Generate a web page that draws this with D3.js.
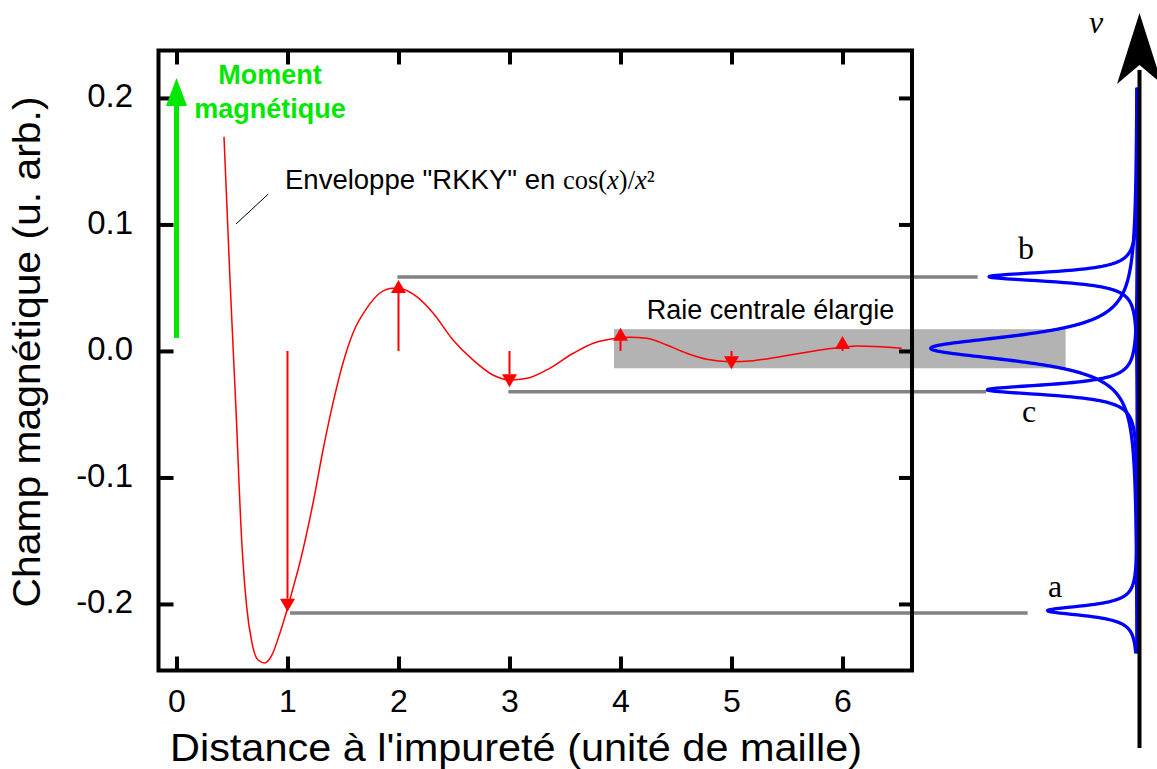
<!DOCTYPE html>
<html>
<head>
<meta charset="utf-8">
<script src="https://cdn.jsdelivr.net/npm/d3@7"></script>
<style>
  html, body { margin: 0; padding: 0; background: #fff; }
  svg { display: block; }
</style>
</head>
<body>
<svg id="chart" width="1157" height="769"></svg>
<script>
// ---------- data ----------
const xTicks = [0, 1, 2, 3, 4, 5, 6];
const xTickLabels = ["0", "1", "2", "3", "4", "5", "6"];
const yTicks = [-0.2, -0.1, 0, 0.1, 0.2];
const yTickLabels = ["-0.2", "-0.1", "0.0", "0.1", "0.2"];

// RKKY-like field curve
const redX = [0.428, 0.482, 0.536, 0.587, 0.632, 0.680, 0.734, 0.797, 0.860, 0.932, 0.993, 1.050, 1.113,
  1.230, 1.320, 1.410, 1.500, 1.590, 1.716, 1.833, 1.950, 2.041, 2.167, 2.311, 2.491, 2.671, 2.851,
  3.005, 3.158, 3.335, 3.575, 3.755, 3.966, 4.086, 4.236, 4.416, 4.596, 4.777, 4.986, 5.196, 5.437,
  5.677, 5.917, 6.128, 6.338, 6.533];
const redY = [0.1692, 0.0561, -0.0466, -0.1494, -0.2021, -0.2308, -0.2443, -0.2466, -0.2403, -0.2229,
  -0.2055, -0.1874, -0.1668, -0.1202, -0.0783, -0.0411, -0.0095, 0.0142, 0.0340, 0.0458, 0.0496, 0.0488,
  0.0427, 0.0300, 0.0087, -0.0071, -0.0190, -0.0229, -0.0216, -0.0150, -0.0018, 0.0061, 0.0100, 0.0108,
  0.0100, 0.0047, -0.0018, -0.0066, -0.0085, -0.0077, -0.0045, -0.0010, 0.0021, 0.0040, 0.0034, 0.0021];

// Field arrows at each lattice site
const arrowX = [1, 2, 3, 4, 5, 6];
const arrowTip = [-0.2061, 0.0561, -0.0287, 0.0184, -0.0145, 0.0119];

// Magnetic moment arrow at the impurity
const momentX = 0;
const momentFrom = 0.0103;
const momentTo = 0.2158;

// Grey guide lines (b, c, a)
const guideNames = ["b", "c", "a"];
const guideStartX = [1.99, 2.99, 1.023];
const guideEndX = [7.218, 7.293, 7.668];
const guideY = [0.0584, -0.0322, -0.2071];

// Broadened central line box
const boxX = [3.941, 8.01];
const boxY = [-0.0137, 0.0172];

// Spectrum peaks (Lorentzian lines): frequency position in field units, relative height, half width
const peakNames = ["b", "central", "c", "a"];
const peakCenter = [0.0587, 0.0021, -0.0307, -0.2053];
const peakAmp = [0.719, 1.0, 0.727, 0.435];
const peakHWHM = [0.0046, 0.012, 0.005, 0.0048];
const specRange = [-0.239, 0.208];

// ---------- layout ----------
const svg = d3.select("#chart");
const L = 158.5, R = 912, T = 50.5, B = 670.5;

const x = d3.scaleLinear().domain([-0.1622, 6.6261]).range([L, R]);
const y = d3.scaleLinear().domain([-0.2526, 0.2375]).range([B, T]);
const inten = d3.scaleLinear().domain([0, 1]).range([1137.5, 930.7]);

const SANS = "'Liberation Sans', Arial, Helvetica, sans-serif";
const SERIF = "'Liberation Serif', 'Times New Roman', serif";
const RED = "#ff0000", GREEN = "#00e800", BLUE = "#0000ff", GREY = "#828282";

// broadened line box
svg.append("rect")
  .attr("x", x(boxX[0])).attr("y", y(boxY[1]))
  .attr("width", x(boxX[1]) - x(boxX[0]))
  .attr("height", y(boxY[0]) - y(boxY[1]))
  .attr("fill", "#b3b3b3");

// guide lines
svg.append("g").selectAll("line").data(guideY).join("line")
  .attr("x1", (d, i) => x(guideStartX[i])).attr("x2", (d, i) => x(guideEndX[i]))
  .attr("y1", d => y(d)).attr("y2", d => y(d))
  .attr("stroke", GREY).attr("stroke-width", 3.5);

// red curve
const redPts = redX.map((v, i) => [v, redY[i]]);
svg.append("path").datum(redPts)
  .attr("d", d3.line().x(d => x(d[0])).y(d => y(d[1])).curve(d3.curveMonotoneX))
  .attr("fill", "none").attr("stroke", RED).attr("stroke-width", 1.5);

// red arrows
const arrows = svg.append("g");
arrowX.forEach((xv, i) => {
  const px = x(xv), py0 = y(0), pt = y(arrowTip[i]);
  const dir = pt < py0 ? 1 : -1; // 1 = up
  const headLen = 13, hw = 7.5;
  const base = pt + dir * headLen;
  arrows.append("line").attr("x1", px).attr("x2", px).attr("y1", py0).attr("y2", base)
    .attr("stroke", RED).attr("stroke-width", 2);
  arrows.append("path")
    .attr("d", `M${px},${pt}L${px - hw},${base}L${px + hw},${base}Z`)
    .attr("fill", RED);
});

// frame
svg.append("rect").attr("x", L).attr("y", T).attr("width", R - L).attr("height", B - T)
  .attr("fill", "none").attr("stroke", "#000").attr("stroke-width", 4);

// axes
function styleAxis(g) {
  g.select(".domain").remove();
  g.selectAll(".tick line").attr("stroke", "#000").attr("stroke-width", 4);
}
const axLeft = svg.append("g").attr("transform", `translate(${L},0)`)
  .call(d3.axisLeft(y).tickValues(yTicks).tickFormat((d, i) => yTickLabels[i])
    .tickSizeInner(-15).tickSizeOuter(0).tickPadding(25.5));
styleAxis(axLeft);
axLeft.selectAll(".tick text").attr("font-family", SANS).attr("font-size", 33)
  .attr("fill", "#000").attr("dy", "0.26em");

const axBottom = svg.append("g").attr("transform", `translate(0,${B})`)
  .call(d3.axisBottom(x).tickValues(xTicks).tickFormat((d, i) => xTickLabels[i])
    .tickSizeInner(-14).tickSizeOuter(0).tickPadding(18.8));
styleAxis(axBottom);
axBottom.selectAll(".tick text").attr("font-family", SANS).attr("font-size", 32).attr("fill", "#000");

const axTop = svg.append("g").attr("transform", `translate(0,${T})`)
  .call(d3.axisTop(x).tickValues(xTicks).tickFormat("").tickSizeInner(-14).tickSizeOuter(0));
styleAxis(axTop);
const axRight = svg.append("g").attr("transform", `translate(${R},0)`)
  .call(d3.axisRight(y).tickValues(yTicks).tickFormat("").tickSizeInner(-13).tickSizeOuter(0));
styleAxis(axRight);

// axis titles
svg.append("text").attr("x", 170).attr("y", 761)
  .attr("font-family", SANS).attr("font-size", 38)
  .attr("textLength", 692).attr("lengthAdjust", "spacingAndGlyphs")
  .text("Distance à l'impureté (unité de maille)");
svg.append("text").attr("transform", "translate(40,352) rotate(-90)")
  .attr("text-anchor", "middle")
  .attr("font-family", SANS).attr("font-size", 38)
  .attr("textLength", 511).attr("lengthAdjust", "spacingAndGlyphs")
  .text("Champ magnétique (u. arb.)");

// green magnetic moment arrow
{
  const px = x(momentX), pt = y(momentTo), p0 = y(momentFrom);
  const headLen = 28, hw = 10.5;
  svg.append("line").attr("x1", px).attr("x2", px).attr("y1", p0).attr("y2", pt + headLen - 2)
    .attr("stroke", GREEN).attr("stroke-width", 5);
  svg.append("path").attr("d", `M${px},${pt}L${px - hw},${pt + headLen}L${px + hw},${pt + headLen}Z`)
    .attr("fill", GREEN);
}
svg.append("text").attr("x", 270).attr("y", 84).attr("text-anchor", "middle")
  .attr("font-family", SANS).attr("font-weight", "bold").attr("font-size", 27)
  .attr("fill", GREEN).text("Moment");
svg.append("text").attr("x", 270).attr("y", 118).attr("text-anchor", "middle")
  .attr("font-family", SANS).attr("font-weight", "bold").attr("font-size", 27)
  .attr("fill", GREEN).text("magnétique");

// envelope annotation
svg.append("line").attr("x1", 268.3).attr("y1", 194).attr("x2", 236).attr("y2", 224)
  .attr("stroke", "#000").attr("stroke-width", 1);
{
  const t = svg.append("text").attr("x", 285).attr("y", 189.3).attr("font-size", 27.5)
    .attr("font-family", SANS);
  t.append("tspan").text("Enveloppe \"RKKY\" en ");
  t.append("tspan").attr("font-family", SERIF).attr("font-size", 26.5).text("cos(");
  t.append("tspan").attr("font-family", SERIF).attr("font-size", 26.5).attr("font-style", "italic").text("x");
  t.append("tspan").attr("font-family", SERIF).attr("font-size", 26.5).text(")/");
  t.append("tspan").attr("font-family", SERIF).attr("font-size", 26.5).attr("font-style", "italic").text("x");
  t.append("tspan").attr("font-family", SERIF).attr("font-size", 26.5).text("²");
}

svg.append("text").attr("x", 646.7).attr("y", 319.3)
  .attr("font-family", SANS).attr("font-size", 27).text("Raie centrale élargie");

// spectrum lines
const nSamp = 900;
const fSamples = d3.range(nSamp + 1).map(k => specRange[0] + (specRange[1] - specRange[0]) * k / nSamp);
peakNames.forEach((nm, i) => {
  const pts = fSamples.map(f => {
    const u = (f - peakCenter[i]) / peakHWHM[i];
    return [peakAmp[i] / (1 + u * u), f];
  });
  svg.append("path").datum(pts)
    .attr("d", d3.line().x(d => inten(d[0])).y(d => y(d[1])))
    .attr("fill", "none").attr("stroke", BLUE).attr("stroke-width", 3.3)
    .attr("stroke-linejoin", "round");
});

// frequency axis (right), drawn over the spectrum baseline
svg.append("line").attr("x1", 1139.5).attr("x2", 1139.5).attr("y1", 748).attr("y2", 70)
  .attr("stroke", "#000").attr("stroke-width", 4);
svg.append("path").attr("d", "M1139.5,13L1117,84L1139.5,65L1162,84Z").attr("fill", "#000");

// labels
const serifLabels = [["b", 1018, 259.3], ["c", 1022, 421.7], ["a", 1048, 596.7]];
svg.append("g").selectAll("text").data(serifLabels).join("text")
  .attr("x", d => d[1]).attr("y", d => d[2])
  .attr("font-family", SERIF).attr("font-size", 32).text(d => d[0]);
svg.append("text").attr("x", 1089).attr("y", 33)
  .attr("font-family", SERIF).attr("font-size", 32).attr("font-style", "italic").text("v");
</script>
</body>
</html>
